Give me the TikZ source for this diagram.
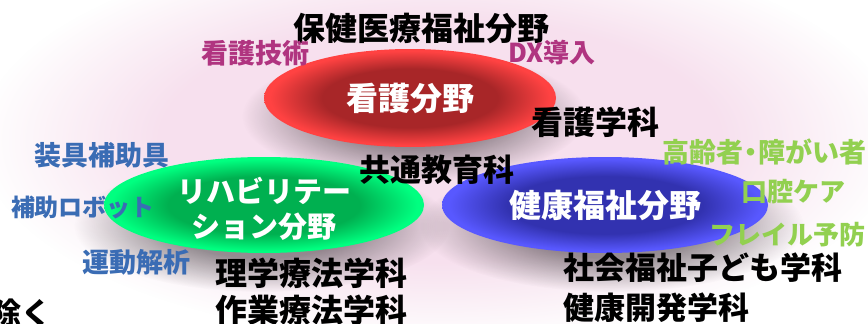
\documentclass[tikz,border=0pt]{standalone}
\usepackage{fontspec}
\usetikzlibrary{shapes.geometric,fadings}
\newfontfamily\jp{Noto Sans CJK JP}
\definecolor{pinkc}{RGB}{247,224,238}
\definecolor{magc}{RGB}{176,52,128}
\definecolor{bluec}{RGB}{58,108,180}
\definecolor{greenc}{RGB}{146,208,80}
\definecolor{reddark}{RGB}{168,38,40}
\definecolor{redbright}{RGB}{255,66,66}
\definecolor{greendark}{RGB}{0,176,80}
\definecolor{greenbright}{RGB}{0,255,128}
\definecolor{bluedark}{RGB}{50,50,176}
\definecolor{bluebright}{RGB}{88,88,255}
\pgfdeclareradialshading{redsh}{\pgfpoint{0bp}{0bp}}{color(0bp)=(reddark); color(15bp)=(reddark); color(24bp)=(redbright); color(50bp)=(redbright)}
\pgfdeclareradialshading{greensh}{\pgfpoint{0bp}{0bp}}{color(0bp)=(greendark); color(15bp)=(greendark); color(24bp)=(greenbright); color(50bp)=(greenbright)}
\pgfdeclareradialshading{bluesh}{\pgfpoint{0bp}{0bp}}{color(0bp)=(bluedark); color(15bp)=(bluedark); color(24bp)=(bluebright); color(50bp)=(bluebright)}
\pgfdeclareradialshading{softfadesh}{\pgfpoint{0bp}{0bp}}{color(0bp)=(white); color(15bp)=(white); color(25bp)=(black); color(50bp)=(black)}
\pgfdeclarefading{softedge}{\pgfuseshading{softfadesh}}
\pgfdeclareradialshading{shadowfadesh}{\pgfpoint{0bp}{0bp}}{color(0bp)=(white); color(12bp)=(white); color(25bp)=(black); color(50bp)=(black)}
\pgfdeclarefading{shadowedge}{\pgfuseshading{shadowfadesh}}
\tikzset{
  field/.style={ellipse, inner sep=0pt},
  fshadow/.style={fill=black, fill opacity=0.4, path fading=shadowedge},
  lbl/.style={inner sep=0pt, font=\jp\bfseries},
  wlbl/.style={lbl, text=white, align=center},
}
\begin{document}
\begin{tikzpicture}[x=1pt,y=-1pt]
\useasboundingbox (0,0) rectangle (868,324);
\clip (0,0) rectangle (868,324);
\fill[white] (0,0) rectangle (868,324);
\fill[pinkc, path fading=softedge] (440,140) ellipse [x radius=460, y radius=200];
% shadows
\fill[fshadow] (414,116) ellipse [x radius=172, y radius=66];
\fill[fshadow] (262,226) ellipse [x radius=188, y radius=66];
\fill[fshadow] (612,226) ellipse [x radius=192, y radius=66];
% fields
\node[field, shading=redsh, minimum width=292pt, minimum height=98pt] (nurse) at (410,98) {};
\node[field, shading=greensh, minimum width=320pt, minimum height=96pt] (rehab) at (264,205) {};
\node[field, shading=bluesh, minimum width=326pt, minimum height=96pt] (health) at (605,205) {};
\node[wlbl, font=\jp\bfseries\fontsize{32}{34}\selectfont] (nurseT) at (nurse) {看護分野};
\node[wlbl, font=\jp\bfseries\fontsize{29}{35}\selectfont] (rehabT) at (264,209) {リハビリテー\\ション分野};
\node[wlbl, font=\jp\bfseries\fontsize{32}{34}\selectfont] (healthT) at (health) {健康福祉分野};
% black labels
\node[lbl, font=\jp\bfseries\fontsize{32}{34}\selectfont] (title) at (421,28) {保健医療福祉分野};
\node[lbl, font=\jp\bfseries\fontsize{32}{34}\selectfont] (nk) at (595,122) {看護学科};
\node[lbl, font=\jp\bfseries\fontsize{31}{34}\selectfont] (kyo) at (437,170) {共通教育科};
\node[lbl, font=\jp\bfseries\fontsize{32}{34}\selectfont] (pt) at (311,273) {理学療法学科};
\node[lbl, font=\jp\bfseries\fontsize{32}{34}\selectfont] (ot) at (311,310) {作業療法学科};
\node[lbl, font=\jp\bfseries\fontsize{31}{34}\selectfont, anchor=west] (sw) at (563,268) {社会福祉子ども学科};
\node[lbl, font=\jp\bfseries\fontsize{31}{34}\selectfont, anchor=west] (hd) at (563,308) {健康開発学科};
\node[lbl, font=\jp\bfseries\fontsize{30}{34}\selectfont, anchor=west] (nozoku) at (-9,313) {除く};
% magenta
\node[lbl, text=magc, font=\jp\bfseries\fontsize{27}{30}\selectfont] (gijutsu) at (255,53) {看護技術};
\node[lbl, text=magc, font=\jp\bfseries\fontsize{26}{30}\selectfont] (dx) at (552,53) {DX導入};
% blue
\node[lbl, text=bluec, font=\jp\bfseries\fontsize{27}{30}\selectfont] (sogu) at (102,155) {装具補助具};
\node[lbl, text=bluec, font=\jp\bfseries\fontsize{24}{30}\selectfont] (robot) at (83,207) {補助ロボット};
\node[lbl, text=bluec, font=\jp\bfseries\fontsize{27}{30}\selectfont] (undo) at (136,262) {運動解析};
% green
\node[lbl, text=greenc, font=\jp\bfseries\fontsize{27}{30}\selectfont] (korei) at (764,152) {高齢者\kern-6pt・\kern-6pt 障がい者};
\node[lbl, text=greenc, font=\jp\bfseries\fontsize{26}{30}\selectfont] (koku) at (793,192) {口腔ケア};
\node[lbl, text=greenc, font=\jp\bfseries\fontsize{26}{30}\selectfont] (frail) at (787,235) {フレイル予防};
\end{tikzpicture}
\end{document}
